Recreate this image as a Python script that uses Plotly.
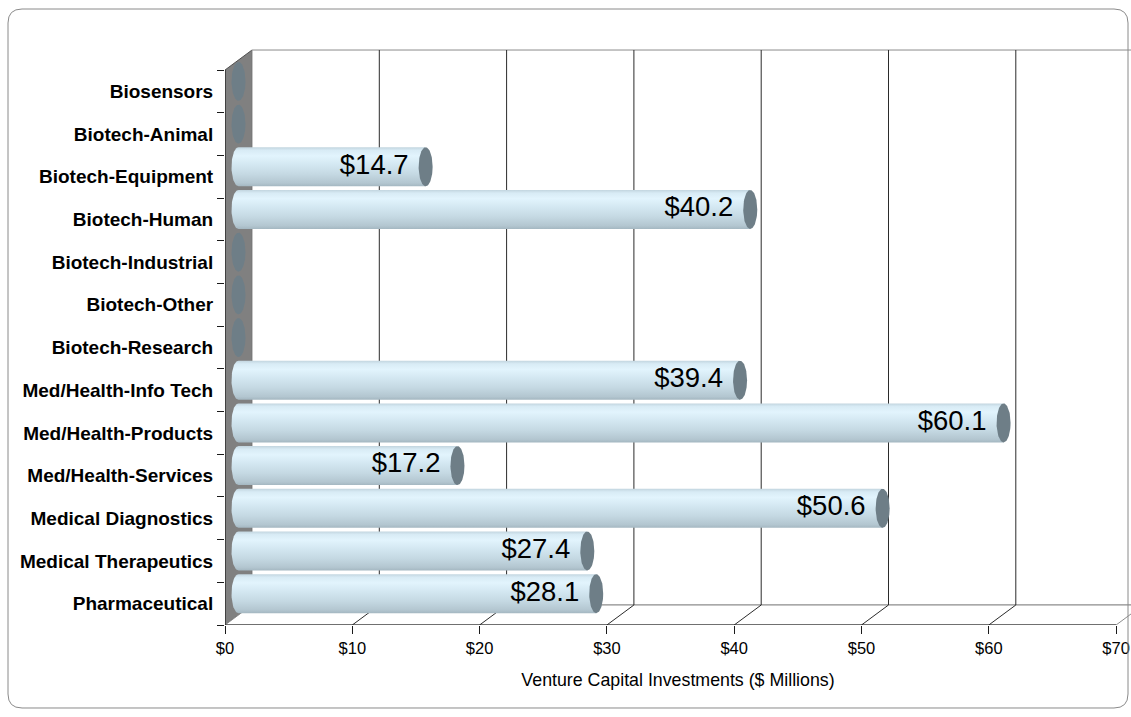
import numpy as np
import plotly.graph_objects as go

# ---- data -------------------------------------------------------------
categories = [
    "Biosensors", "Biotech-Animal", "Biotech-Equipment", "Biotech-Human",
    "Biotech-Industrial", "Biotech-Other", "Biotech-Research",
    "Med/Health-Info Tech", "Med/Health-Products", "Med/Health-Services",
    "Medical Diagnostics", "Medical Therapeutics", "Pharmaceutical",
]
investments = [0, 0, 14.7, 40.2, 0, 0, 0, 39.4, 60.1, 17.2, 50.6, 27.4, 28.1]
tick_values = [0, 10, 20, 30, 40, 50, 60, 70]
tick_labels = ["$0", "$10", "$20", "$30", "$40", "$50", "$60", "$70"]
x_title = "Venture Capital Investments ($ Millions)"

# ---- page geometry ----------------------------------------------------
W, H = 1131, 717
M_L, M_R, M_T, M_B = 225, 0, 40, 92
UX = 12.73          # pixels per $1M on the front plane
UY = 42.69          # pixels per category row
X_MAX = (W - M_L - M_R) / UX
Y_MIN = -0.5
Y_MAX = Y_MIN + (H - M_T - M_B) / UY

DX = 27 / UX        # depth of the 3-D box, in axis units
DY = 20 / UY
n = len(categories)
Y_TOP = n - 0.5
X_END = tick_values[-1]

CAP_A = 7 / UX      # half-width of a cylinder end ellipse
BAR_H = 19.5 / UY   # half-height of a cylinder

FONT = "Liberation Sans, Arial, sans-serif"
WALL_LINE = "#8c8c8c"
GRID = "#2b2b2b"
CAP = "#6e7e87"
BAR_SCALE = [
    [0.00, "#a4b7c1"],
    [0.08, "#b3c6d0"],
    [0.30, "#c4d8e2"],
    [0.55, "#d3e7f1"],
    [0.78, "#e2f4fd"],
    [0.92, "#d8ebf5"],
    [1.00, "#c2d5df"],
]

fig = go.Figure()
skip = dict(hoverinfo="skip", showlegend=False)

# side wall
fig.add_trace(go.Scatter(
    x=[0, 0, DX, DX, 0], y=[Y_MIN, Y_TOP, Y_TOP + DY, Y_MIN + DY, Y_MIN],
    mode="lines", fill="toself", fillcolor="#808080",
    line=dict(color="#505050", width=1), **skip))
# back wall
fig.add_trace(go.Scatter(
    x=[DX, DX, X_END + DX, X_END + DX, DX],
    y=[Y_MIN + DY, Y_TOP + DY, Y_TOP + DY, Y_MIN + DY, Y_MIN + DY],
    mode="lines", fill="toself", fillcolor="white",
    line=dict(color=WALL_LINE, width=1), **skip))
# floor
fig.add_trace(go.Scatter(
    x=[0, X_END, X_END + DX, DX, 0],
    y=[Y_MIN, Y_MIN, Y_MIN + DY, Y_MIN + DY, Y_MIN],
    mode="lines", fill="toself", fillcolor="white",
    line=dict(color=WALL_LINE, width=1), **skip))

# gridlines: diagonal across the floor, then up the back wall
gx, gy = [], []
for t in tick_values[1:-1]:
    gx += [t, t + DX, t + DX, None]
    gy += [Y_MIN, Y_MIN + DY, Y_TOP + DY, None]
fig.add_trace(go.Scatter(x=gx, y=gy, mode="lines",
                         line=dict(color=GRID, width=1), **skip))

# front axis lines
fig.add_trace(go.Scatter(x=[0, X_END, None, 0, 0],
                         y=[Y_MIN, Y_MIN, None, Y_MIN, Y_TOP],
                         mode="lines", line=dict(color="#1a1a1a", width=1),
                         **skip))

# cylinders
theta_left = np.linspace(np.pi / 2, 3 * np.pi / 2, 40)
theta_full = np.linspace(0, 2 * np.pi, 80)
for i, v in enumerate(investments):
    yc = (n - 1 - i) + DY / 2
    x0 = DX / 2
    xr = v + DX / 2
    if v > 0:
        bx = list(x0 + CAP_A * np.cos(theta_left)) + [xr, xr]
        by = list(yc + BAR_H * np.sin(theta_left)) + [yc - BAR_H, yc + BAR_H]
        bx.append(bx[0])
        by.append(by[0])
        fig.add_trace(go.Scatter(
            x=bx, y=by, mode="lines", fill="toself",
            fillgradient=dict(type="vertical", colorscale=BAR_SCALE),
            line=dict(width=0, color="rgba(0,0,0,0)"), **skip))
    fig.add_trace(go.Scatter(
        x=xr + CAP_A * np.cos(theta_full), y=yc + BAR_H * np.sin(theta_full),
        mode="lines", fill="toself", fillcolor=CAP,
        line=dict(width=0, color=CAP), **skip))

# value labels
lab_x = [v + DX / 2 - 17 / UX for v in investments if v > 0]
lab_y = [(n - 1 - i) + DY / 2 for i, v in enumerate(investments) if v > 0]
lab_t = [f"${v:.1f}" for v in investments if v > 0]
fig.add_trace(go.Scatter(
    x=lab_x, y=lab_y, text=lab_t, mode="text", textposition="middle left",
    textfont=dict(family=FONT, size=27.5, color="#000000"), **skip))

# outer rounded frame (pixel -> paper)
def px(x):
    return (x - M_L) / (W - M_L - M_R)


def py(y):
    return (H - M_B - y) / (H - M_T - M_B)


x0f, y0f, x1f, y1f, r = 8, 9, 1128, 708, 14
pts = [
    ("M", (x0f + r, y0f)), ("L", (x1f - r, y0f)),
    ("Q", (x1f, y0f), (x1f, y0f + r)), ("L", (x1f, y1f - r)),
    ("Q", (x1f, y1f), (x1f - r, y1f)), ("L", (x0f + r, y1f)),
    ("Q", (x0f, y1f), (x0f, y1f - r)), ("L", (x0f, y0f + r)),
    ("Q", (x0f, y0f), (x0f + r, y0f)),
]
path = ""
for seg in pts:
    path += seg[0] + " " + " ".join(f"{px(p[0]):.5f},{py(p[1]):.5f}" for p in seg[1:]) + " "
path += "Z"
fig.add_shape(type="path", path=path, xref="paper", yref="paper",
              line=dict(color="#8a8a8a", width=1), layer="above")

fig.update_layout(
    width=W, height=H,
    margin=dict(l=M_L, r=M_R, t=M_T, b=M_B, pad=0),
    paper_bgcolor="white", plot_bgcolor="white",
    template="none",
    showlegend=False,
    xaxis=dict(
        range=[0, X_MAX], tickmode="array", tickvals=tick_values,
        ticktext=tick_labels, ticks="outside", ticklen=8, tickcolor="#1a1a1a",
        showline=False, showgrid=False, zeroline=False, automargin=False,
        tickfont=dict(family=FONT, size=16.5, color="#000000"),
        title=dict(text=x_title, standoff=17,
                   font=dict(family=FONT, size=17.8, color="#000000")),
        fixedrange=True,
    ),
    yaxis=dict(
        range=[Y_MIN, Y_MAX], tickmode="array",
        tickvals=[n - 1 - i for i in range(n)], ticktext=categories,
        ticks="outside", ticklen=7, tickcolor="rgba(0,0,0,0)",
        minor=dict(tickmode="array",
                   tickvals=[k - 0.5 for k in range(n + 1)],
                   ticks="outside", ticklen=7, tickcolor="#1a1a1a",
                   showgrid=False),
        showline=False, showgrid=False, zeroline=False, automargin=False,
        tickfont=dict(family=FONT, size=19, color="#000000",
                      weight="bold"),
        fixedrange=True,
    ),
)

fig.write_html("out.html")
